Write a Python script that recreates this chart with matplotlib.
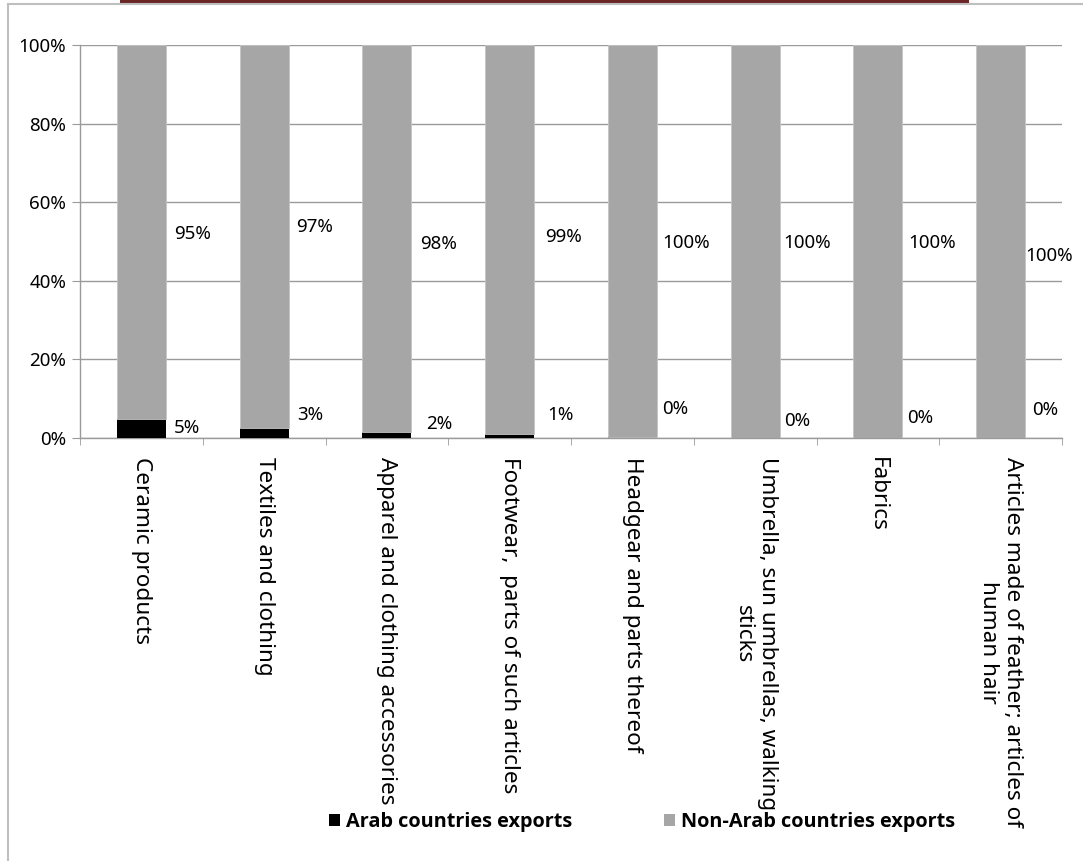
import matplotlib
matplotlib.use('Agg')
import matplotlib.pyplot as plt
from matplotlib.lines import Line2D
from matplotlib.patches import Patch, Rectangle
import numpy as np

plt.rcParams['font.family'] = ['Noto Sans', 'DejaVu Sans']

categories = [
    'Ceramic products',
    'Textiles and clothing',
    'Apparel and clothing accessories',
    'Footwear,  parts of such articles',
    'Headgear and parts thereof',
    'Umbrella, sun umbrellas, walking\nsticks',
    'Fabrics',
    'Articles made of feather; articles of\nhuman hair',
]
arab_share = [0.048, 0.026, 0.016, 0.011, 0.002, 0.0005, 0.0003, 0.0002]
non_arab_share = [1 - v for v in arab_share]
y_ticks = [0, 0.2, 0.4, 0.6, 0.8, 1.0]

# hand-placed data label spots: y in axis units, x offset (px) from bar edge
upper_label_y = [0.519, 0.537, 0.494, 0.511, 0.496, 0.496, 0.496, 0.463]
upper_label_dx = [8, 7, 9, 11, 5, 4, 6, 0]
lower_label_y = [0.025, 0.059, 0.036, 0.059, 0.074, 0.043, 0.051, 0.071]
lower_label_dx = [8, 9, 15, 13, 5, 4, 5, 7]

ARAB = '#000000'
NON_ARAB = '#a6a6a6'
GRID = '#9a9a9a'
W, H = 1083, 861


def pct(v):
    return f'{int(v * 100 + 0.5)}%'


fig = plt.figure(figsize=(W / 100, H / 100), dpi=100)
ax = fig.add_axes([80 / W, (H - 438) / H, (1062 - 80) / W, (438 - 45) / H])

x = np.arange(len(categories))
bw = 0.4
ax.bar(x, arab_share, bw, color=ARAB, edgecolor='none', zorder=3)
ax.bar(x, non_arab_share, bw, bottom=arab_share, color=NON_ARAB,
       edgecolor='#c4c4c4', linewidth=0.6, zorder=3)

px = 72 / 100  # points per pixel
for i in range(len(categories)):
    ax.annotate(pct(non_arab_share[i]), (x[i] + bw / 2, upper_label_y[i]),
                xytext=(upper_label_dx[i] * px, 0), textcoords='offset points',
                ha='left', va='center', fontsize=13.5, color='#000000')
    ax.annotate(pct(arab_share[i]), (x[i] + bw / 2, lower_label_y[i]),
                xytext=(lower_label_dx[i] * px, 0), textcoords='offset points',
                ha='left', va='center', fontsize=13.5, color='#000000')

ax.set_xlim(-0.5, len(categories) - 0.5)
ax.set_ylim(0, 1)
ax.set_yticks(y_ticks)
ax.set_yticklabels([pct(v) for v in y_ticks], fontsize=13.5)
ax.yaxis.grid(True, color=GRID, lw=1.0)
ax.set_axisbelow(True)

ax.set_xticks(x)
ax.set_xticklabels(categories, rotation=-90, ha='center', va='top',
                   multialignment='center', fontsize=16.2)
ax.set_xticks(np.arange(len(categories) + 1) - 0.5, minor=True)
ax.tick_params(axis='x', which='major', length=0, pad=14)
ax.tick_params(axis='x', which='minor', length=5, color=GRID, direction='out')
ax.tick_params(axis='y', length=6, color=GRID, direction='out', pad=4)

for side in ('top', 'right'):
    ax.spines[side].set_visible(False)
for side in ('left', 'bottom'):
    ax.spines[side].set_color(GRID)
    ax.spines[side].set_linewidth(1.0)

handles = [Patch(facecolor=ARAB, label='Arab countries exports'),
           Patch(facecolor=NON_ARAB, label='Non-Arab countries exports')]
fig.legend(handles=handles, loc='center', bbox_to_anchor=(642 / W, 1 - 822 / H),
           ncol=2, frameon=False, handlelength=0.55, handleheight=0.55,
           handletextpad=0.3, columnspacing=4.6,
           prop={'family': ['Open Sans', 'DejaVu Sans'], 'weight': 'bold',
                 'size': 14.3})

# outer chart frame and the header strip peeking in at the top
fig.add_artist(Line2D([8 / W, 8 / W], [0, 1 - 4 / H], color='#bfbfbf', lw=1.5,
                      transform=fig.transFigure))
fig.add_artist(Line2D([8 / W, 1], [1 - 4 / H, 1 - 4 / H], color='#bfbfbf', lw=1.5,
                      transform=fig.transFigure))
fig.add_artist(Rectangle((120 / W, 1 - 4 / H), (969 - 120) / W, 4 / H,
                         color='#6b2626', transform=fig.transFigure, lw=0))

fig.savefig('out.png', dpi=100)
